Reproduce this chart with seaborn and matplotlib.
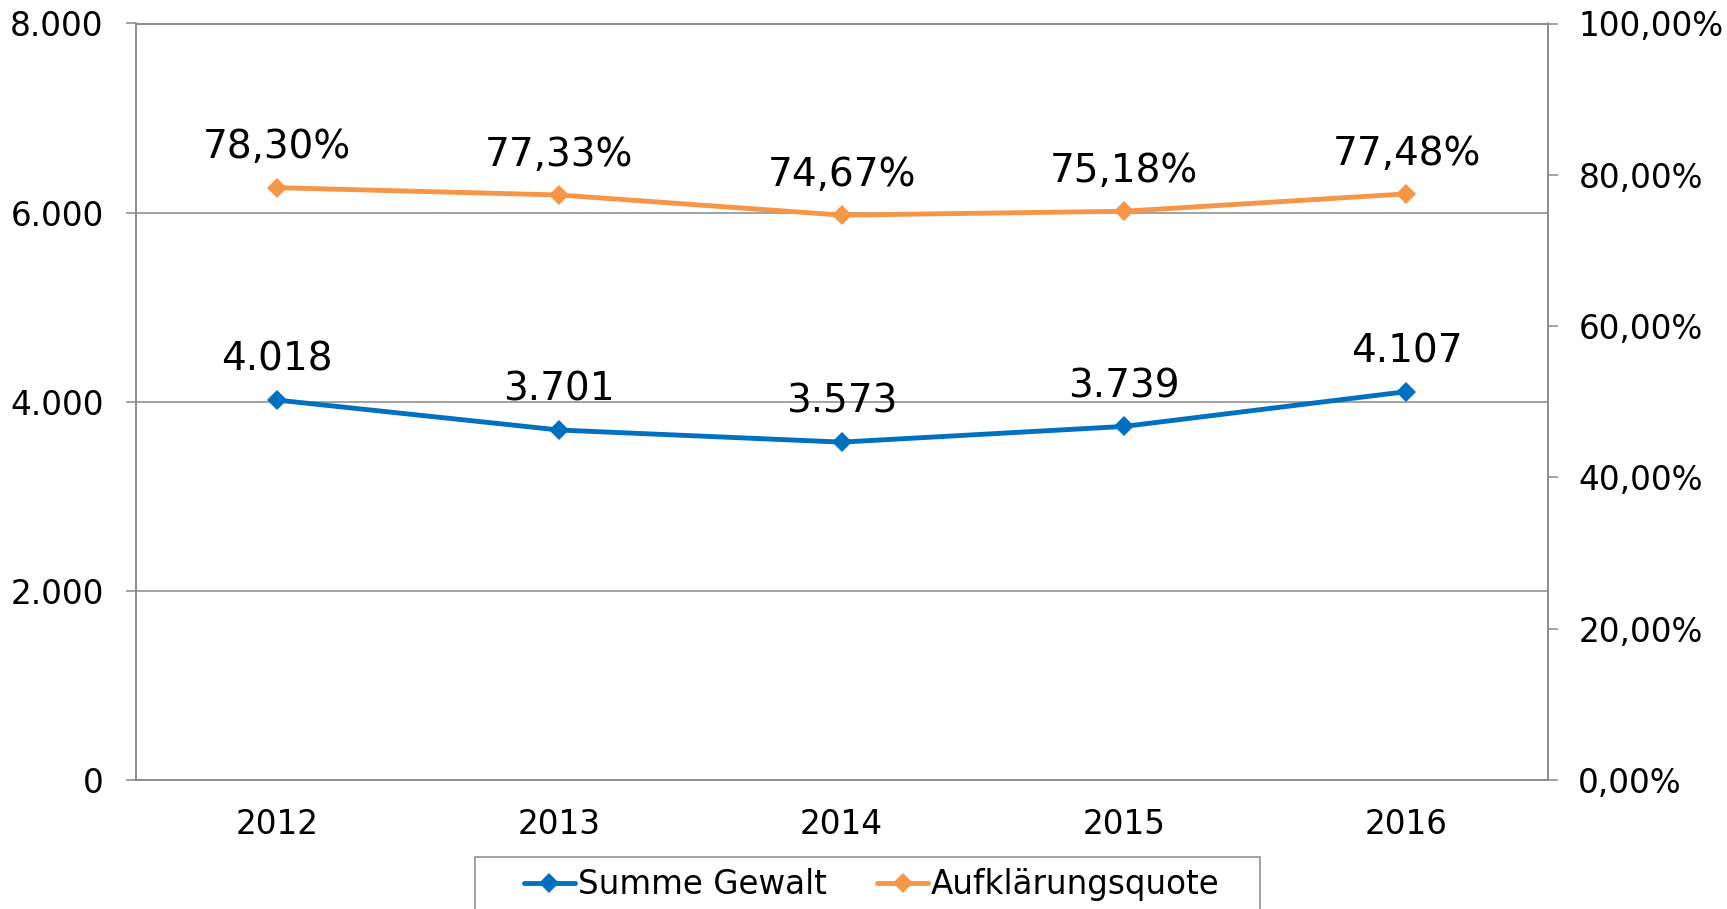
import matplotlib
matplotlib.use("Agg")
import matplotlib.pyplot as plt
import matplotlib.patches as mpatches
import seaborn as sns
import pandas as pd

# ---- data ----
years = ["2012", "2013", "2014", "2015", "2016"]
summe_gewalt = [4018, 3701, 3573, 3739, 4107]
aufklaerungsquote = [78.30, 77.33, 74.67, 75.18, 77.48]
left_ticks = [0, 2000, 4000, 6000, 8000]
left_tick_labels = ["0", "2.000", "4.000", "6.000", "8.000"]
right_ticks = [0, 20, 40, 60, 80, 100]
right_tick_labels = ["0,00%", "20,00%", "40,00%", "60,00%", "80,00%", "100,00%"]
series_names = ["Summe Gewalt", "Aufklärungsquote"]

BLUE = "#0070C0"
ORANGE = "#F79646"
GRAY = "#898989"

sns.set_style("white")
plt.rcParams["font.family"] = ["DejaVu Sans"]
plt.rcParams["text.color"] = "black"
plt.rcParams["xtick.labelcolor"] = "black"
plt.rcParams["ytick.labelcolor"] = "black"

df = pd.DataFrame({
    "pos": list(range(len(years))),
    "summe": summe_gewalt,
    "quote": aufklaerungsquote,
})

fig = plt.figure(figsize=(17.27, 9.09), dpi=100)
ax = fig.add_axes([135.5 / 1727, 1 - 780 / 909, (1547.7 - 135.5) / 1727, (780 - 23.5) / 909])
ax2 = ax.twinx()

sns.lineplot(data=df, x="pos", y="summe", ax=ax, color=BLUE, linewidth=3.5,
             marker="D", markersize=10.5, markeredgewidth=0, label=series_names[0], legend=False)
sns.lineplot(data=df, x="pos", y="quote", ax=ax2, color=ORANGE, linewidth=3.5,
             marker="D", markersize=10.5, markeredgewidth=0, label=series_names[1], legend=False)

ax.set_xlim(-0.5, len(years) - 0.5)
ax.set_ylim(left_ticks[0], left_ticks[-1])
ax2.set_ylim(right_ticks[0], right_ticks[-1])

ax.set_yticks(left_ticks)
ax.set_yticklabels(left_tick_labels)
ax2.set_yticks(right_ticks)
ax2.set_yticklabels(right_tick_labels)

# category ticks between categories, labels at centers
ax.set_xticks([p - 0.5 for p in range(len(years) + 1)])
ax.set_xticklabels([])
ax.set_xticks(list(range(len(years))), minor=True)
ax.set_xticklabels(years, minor=True)
ax.tick_params(axis="x", which="minor", length=0, pad=20, labelsize=23.5, labelcolor="black")
ax.tick_params(axis="x", which="major", length=7, width=1.1, color=GRAY, direction="out")
ax.tick_params(axis="y", length=7, width=1.1, color=GRAY, direction="out", pad=16,
               labelsize=23.5, labelcolor="black")
ax2.tick_params(axis="y", length=7, width=1.1, color=GRAY, direction="out", pad=15,
                labelsize=23.5, labelcolor="black")

ax.set_xlabel("")
ax.set_ylabel("")
ax2.set_ylabel("")

ax.yaxis.grid(True, color=GRAY, linewidth=1.1)
ax.xaxis.grid(False)
ax2.grid(False)
for a in (ax, ax2):
    for s in a.spines.values():
        s.set_color(GRAY)
        s.set_linewidth(1.1)

# data labels
for p, v in zip(df["pos"], summe_gewalt):
    ax.annotate(f"{v:,}".replace(",", "."), (p, v), xytext=(0, 29), textcoords="offset points",
                ha="center", va="center", fontsize=28, color="black")
for p, v in zip(df["pos"], aufklaerungsquote):
    ax2.annotate(f"{v:.2f}%".replace(".", ","), (p, v), xytext=(0, 29), textcoords="offset points",
                 ha="center", va="center", fontsize=28, color="black")

# legend
h1, l1 = ax.get_legend_handles_labels()
h2, l2 = ax2.get_legend_handles_labels()
fig.legend(h1 + h2, l1 + l2, loc="center", bbox_to_anchor=(872 / 1727, 1 - 884.7 / 909),
           ncol=2, frameon=False, fontsize=23.5, handlelength=1.55, handletextpad=0.1,
           columnspacing=1.55, borderpad=0, numpoints=1, labelcolor="black")
frame = mpatches.Rectangle((475 / 1727, 1 - 920 / 909), (1260 - 475) / 1727, (920 - 857) / 909,
                           transform=fig.transFigure, fill=False, edgecolor=GRAY, linewidth=1.1)
fig.patches.append(frame)

fig.savefig("out.png", dpi=100)
